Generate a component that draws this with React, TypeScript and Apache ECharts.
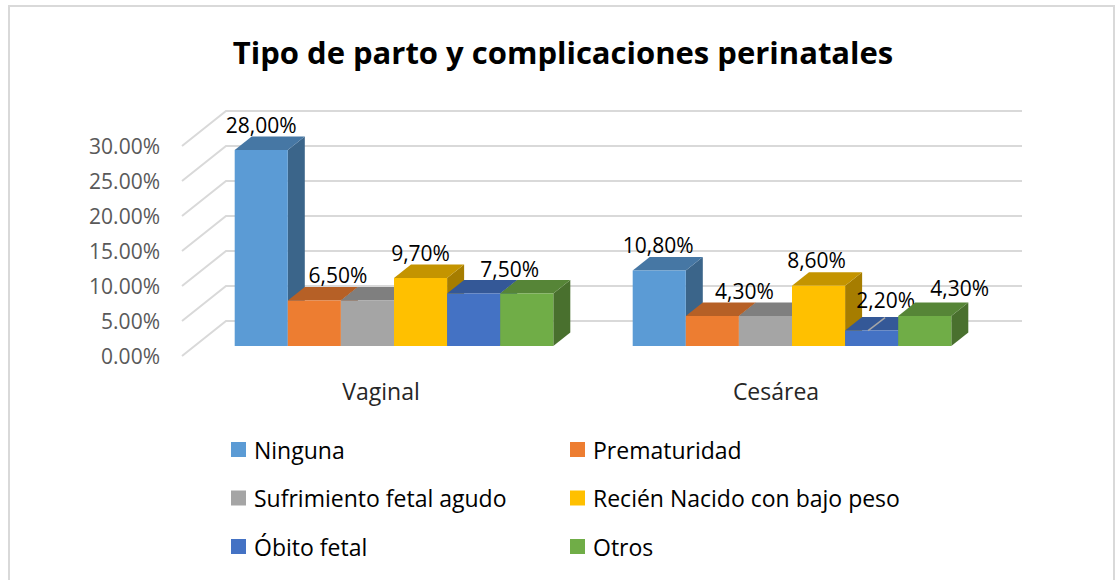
import React, { useEffect, useRef } from "react";
import * as echarts from "echarts";

const categories = ["Vaginal", "Cesárea"];
const seriesNames = ["Ninguna", "Prematuridad", "Sufrimiento fetal agudo", "Recién Nacido con bajo peso", "Óbito fetal", "Otros"];
const ninguna = [28.0, 10.8];
const prematuridad = [6.5, 4.3];
const sufrimiento = [6.5, 4.3];
const bajoPeso = [9.7, 8.6];
const obito = [7.5, 2.2];
const otros = [7.5, 4.3];
const allValues = [ninguna, prematuridad, sufrimiento, bajoPeso, obito, otros];
const yTicks = [0, 5, 10, 15, 20, 25, 30];
const colors = ["#5B9BD5", "#ED7D31", "#A5A5A5", "#FFC000", "#4472C4", "#70AD47"];

// Hand-placed data label offsets [dx, dy] from the centre of a bar's top edge; null = no label.
const labelOffsets: (number[] | null)[][] = [
  [[0, -25], [-1, -25]],
  [[23.5, -25.5], [32, -25]],
  [null, null],
  [[0, -25], [-2, -26]],
  [[36, -25], [14, -31]],
  [null, [35, -28]],
];

const FONT = "'Open Sans', sans-serif";
const BAR_W = 53.1;
const SHIFT_X = 13; // from the front plane of the box to the bars' front faces
const SHIFT_Y = 10;
const DEPTH_X = 17; // bar depth
const DEPTH_Y = 13.5;
const WALL_X = 44; // box depth
const WALL_Y = 35;
const GRID = "#D9D9D9";

function shade(hex: string, k: number) {
  const n = parseInt(hex.slice(1), 16);
  const c = (s: number) => Math.round(((n >> s) & 255) * k);
  return `rgb(${c(16)},${c(8)},${c(0)})`;
}

function barRenderer(seriesIndex: number) {
  return (_params: any, api: any) => {
    const cat = api.value(0);
    const val = api.value(1);
    const [cx, yTopRaw] = api.coord([cat, val]);
    const [, yBaseRaw] = api.coord([cat, 0]);
    const x0 = cx + SHIFT_X + (seriesIndex - 3) * BAR_W;
    const x1 = x0 + BAR_W;
    const top = yTopRaw - SHIFT_Y;
    const base = yBaseRaw - SHIFT_Y;
    const color = colors[seriesIndex];
    const children: any[] = [
      {
        type: "polygon",
        shape: { points: [[x1, top], [x1 + DEPTH_X, top - DEPTH_Y], [x1 + DEPTH_X, base - DEPTH_Y], [x1, base]] },
        style: { fill: shade(color, 0.65) },
      },
      {
        type: "polygon",
        shape: { points: [[x0, top], [x0 + DEPTH_X, top - DEPTH_Y], [x1 + DEPTH_X, top - DEPTH_Y], [x1, top]] },
        style: { fill: shade(color, 0.77) },
      },
      { type: "rect", shape: { x: x0, y: top, width: BAR_W, height: base - top }, style: { fill: color } },
    ];
    const off = labelOffsets[seriesIndex][cat];
    if (seriesIndex === 4 && cat === 1) {
      children.push({
        type: "line",
        shape: { x1: x0 + 23, y1: top, x2: x0 + 40, y2: top - 13 },
        style: { stroke: "#A6A6A6", lineWidth: 1.5 },
      });
    }
    if (off) {
      children.push({
        type: "text",
        x: (x0 + x1) / 2 + off[0],
        y: top + off[1],
        style: {
          text: val.toFixed(2).replace(".", ",") + "%",
          fill: "#000000",
          font: `21px ${FONT}`,
          align: "center",
          verticalAlign: "middle",
        },
      });
    }
    return { type: "group", children };
  };
}

function wallRenderer(params: any, api: any) {
  const cs = params.coordSys;
  const y = api.coord([0, api.value(1)])[1];
  return {
    type: "polyline",
    shape: {
      points: [
        [cs.x, y],
        [cs.x + WALL_X, y - WALL_Y],
        [cs.x + cs.width + WALL_X, y - WALL_Y],
      ],
    },
    style: { stroke: GRID, lineWidth: 2, fill: "none" },
  };
}

const legendBase = {
  orient: "vertical",
  top: 438,
  padding: 0,
  icon: "rect",
  itemWidth: 15,
  itemHeight: 15,
  itemGap: 25.5,
  selectedMode: false,
  textStyle: { fontFamily: FONT, fontSize: 23, color: "#000000", padding: [0, 0, 0, 3] },
};

export default function App() {
  const ref = useRef<HTMLDivElement>(null);
  useEffect(() => {
    const chart = echarts.init(ref.current!, undefined, { renderer: "svg" });
    chart.setOption({
      animation: false,
      backgroundColor: "#FFFFFF",
      title: {
        text: "Tipo de parto y complicaciones perinatales",
        left: 558,
        top: 31,
        textAlign: "center",
        textStyle: { fontFamily: FONT, fontWeight: "bold", fontSize: 31, color: "#000000" },
      },
      graphic: [
        {
          type: "rect",
          silent: true,
          z: -1,
          shape: { x: 9, y: 6, width: 1105, height: 590 },
          style: { fill: "none", stroke: GRID, lineWidth: 2 },
        },
      ],
      grid: { left: 182, top: 146, width: 796, height: 210 },
      xAxis: {
        type: "category",
        data: categories,
        axisLine: { show: false },
        axisTick: { show: false },
        axisLabel: {
          fontFamily: FONT,
          fontSize: 23,
          color: "#262626",
          margin: 23,
          formatter: (v: string, i: number) => (i === 1 ? `{c|${v}}` : v),
          rich: { c: { fontFamily: FONT, fontSize: 23, color: "#262626", padding: [0, 6, 0, 0] } },
        },
      },
      yAxis: {
        type: "value",
        min: 0,
        max: 30,
        interval: 5,
        axisLine: { show: false },
        axisTick: { show: false },
        splitLine: { show: false },
        axisLabel: {
          fontFamily: FONT,
          fontSize: 21,
          color: "#595959",
          margin: 22,
          padding: [3, 0, 0, 0],
          formatter: (v: number) => v.toFixed(2) + "%",
        },
      },
      legend: [
        { ...legendBase, data: [seriesNames[0], seriesNames[2], seriesNames[4]], left: 231 },
        { ...legendBase, data: [seriesNames[1], seriesNames[3], seriesNames[5]], left: 570 },
      ],
      series: [
        {
          type: "custom",
          name: "grid",
          silent: true,
          renderItem: wallRenderer,
          data: yTicks.map((t) => [0, t]),
          z: 1,
        },
        ...allValues.map((vals, i) => ({
          type: "custom",
          name: seriesNames[i],
          itemStyle: { color: colors[i] },
          renderItem: barRenderer(i),
          data: vals.map((v, c) => [c, v]),
          z: 2 + i,
        })),
      ],
    });
    return () => chart.dispose();
  }, []);
  return <div ref={ref} style={{ position: "absolute", left: 0, top: 0, width: 1115, height: 580 }} />;
}
